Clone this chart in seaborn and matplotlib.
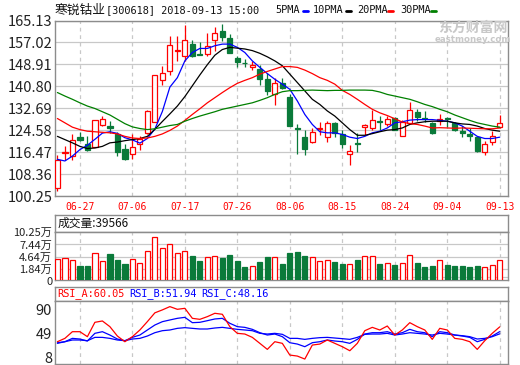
import numpy as np
import pandas as pd
import seaborn as sns
import matplotlib.pyplot as plt
from matplotlib.lines import Line2D

# tamanho final em pixels
W, H = 520, 365

titulo_nome = "寒锐钴业"
titulo_resto = "[300618] 2018-09-13 15:00"

dates = ["06-22", "06-25", "06-26", "06-27", "06-28", "06-29",
         "07-02", "07-03", "07-04", "07-05", "07-06", "07-09", "07-10", "07-11", "07-12", "07-13",
         "07-16", "07-17", "07-18", "07-19", "07-20", "07-23", "07-24", "07-25", "07-26", "07-27",
         "07-30", "07-31", "08-01", "08-02", "08-03", "08-06", "08-07", "08-08", "08-09", "08-10",
         "08-13", "08-14", "08-15", "08-16", "08-17", "08-20", "08-21", "08-22", "08-23", "08-24",
         "08-27", "08-28", "08-29", "08-30", "08-31", "09-03", "09-04", "09-05", "09-06", "09-07",
         "09-10", "09-11", "09-12", "09-13"]

open_p = [103.1, 116.2, 115.1, 122.1, 119.5, 118.4, 126.4, 126.3, 123.2, 117.8,
          115.8, 119.5, 123.6, 127.7, 143.0, 146.5, 153.7, 152.1, 156.4, 152.6,
          152.7, 157.9, 161.2, 158.7, 151.2, 149.5, 147.8, 147.2, 143.4, 137.8,
          142.2, 136.9, 125.3, 122.1, 120.2, 124.9, 122.1, 127.3, 123.3, 115.8,
          119.8, 125.8, 125.4, 127.8, 126.7, 129.2, 122.3, 127.3, 131.3, 129.0,
          127.1, 127.9, 129.1, 127.3, 124.2, 123.3, 122.1, 116.5, 120.1, 125.7]
high_p = [115.5, 118.6, 123.0, 123.9, 122.3, 128.5, 130.0, 127.9, 124.0, 119.5,
          123.3, 122.3, 132.0, 145.0, 148.4, 159.5, 159.5, 163.3, 157.9, 157.1,
          160.4, 162.6, 163.9, 160.2, 152.1, 150.9, 150.2, 148.8, 145.9, 143.8,
          143.8, 137.8, 126.9, 124.5, 125.4, 127.7, 127.9, 127.7, 124.8, 119.0,
          123.6, 126.7, 132.0, 129.8, 129.8, 129.5, 128.2, 135.1, 132.3, 131.7,
          127.7, 130.4, 129.4, 127.7, 126.1, 125.4, 122.3, 120.7, 124.2, 130.2]
low_p = [102.0, 113.4, 113.7, 120.5, 116.8, 118.2, 126.1, 123.6, 114.9, 113.7,
         114.0, 117.4, 123.3, 127.6, 141.3, 145.0, 150.2, 150.2, 151.5, 152.2,
         152.1, 154.0, 157.4, 153.0, 147.8, 148.0, 146.8, 141.3, 137.6, 133.9,
         139.7, 126.1, 115.8, 115.3, 119.9, 122.7, 120.2, 122.0, 118.0, 111.6,
         116.5, 122.7, 124.6, 124.8, 126.1, 124.8, 122.3, 127.2, 127.9, 127.7,
         123.3, 126.4, 125.8, 124.2, 122.0, 120.5, 116.5, 115.3, 119.2, 125.4]
close_p = [113.4, 116.7, 120.9, 120.9, 117.4, 128.3, 128.8, 125.3, 116.5, 114.0,
           118.4, 121.5, 131.7, 144.9, 145.9, 156.1, 154.4, 157.9, 152.1, 152.4,
           155.8, 160.4, 159.2, 153.3, 149.9, 149.3, 148.6, 143.4, 139.1, 141.9,
           140.1, 126.1, 125.0, 117.8, 123.9, 125.3, 127.3, 123.6, 119.6, 116.8,
           119.6, 126.4, 128.3, 127.6, 128.9, 124.8, 127.7, 132.0, 129.4, 128.8,
           123.6, 128.9, 128.7, 124.8, 123.6, 122.3, 116.8, 119.5, 122.6, 127.3]

# volume em 万
volume = [4.17, 4.33, 3.87, 2.58, 2.58, 5.47, 3.72, 5.31, 3.94, 3.03,
          4.17, 3.26, 5.93, 9.12, 6.61, 7.59, 5.54, 5.93, 4.86, 3.72,
          4.56, 4.79, 4.40, 5.09, 3.72, 2.35, 2.58, 3.56, 4.70, 4.63,
          3.10, 5.61, 5.84, 4.93, 4.63, 3.72, 3.94, 3.56, 3.10, 3.03,
          3.94, 4.86, 4.86, 3.10, 3.26, 2.80, 3.26, 5.09, 3.33, 2.35,
          2.58, 3.94, 2.80, 2.58, 2.58, 2.35, 2.58, 2.35, 2.80, 3.9566]

ma5 = [113.8, 113.2, 115.0, 117.4, 119.0, 121.2, 123.5, 124.0, 123.4, 121.8,
       121.0, 119.8, 121.5, 125.0, 131.5, 140.5, 144.0, 150.2, 153.3, 154.8,
       154.8, 155.8, 156.4, 156.4, 155.2, 153.3, 150.2, 147.8, 145.5, 143.4,
       141.6, 139.7, 135.4, 130.4, 126.7, 124.0, 123.6, 123.6, 123.0, 122.0,
       121.5, 122.3, 123.6, 124.2, 125.4, 127.3, 127.7, 128.3, 128.5, 128.5,
       128.5, 128.2, 127.9, 127.3, 126.1, 124.2, 122.3, 121.5, 121.5, 122.0]
ma10 = [122.3, 121.1, 119.9, 118.6, 117.8, 118.0, 118.6, 119.9, 120.2, 120.7,
        121.1, 121.5, 122.3, 124.9, 127.8, 130.6, 133.5, 137.0, 141.0, 145.0,
        148.8, 152.3, 154.4, 155.2, 154.9, 154.6, 154.0, 153.0, 151.7, 150.2,
        148.4, 145.3, 142.2, 139.1, 136.0, 134.1, 131.7, 129.8, 127.3, 124.8,
        122.7, 122.7, 123.3, 124.0, 124.6, 124.8, 125.4, 126.7, 127.3, 127.7,
        127.9, 127.9, 127.9, 127.3, 126.9, 126.7, 126.1, 125.2, 124.6, 124.2]
ma20 = [128.9, 127.3, 125.7, 124.8, 124.2, 124.0, 123.8, 123.6, 123.2, 122.3,
        121.7, 121.5, 121.7, 122.3, 123.2, 124.5, 126.1, 128.2, 130.4, 132.5,
        134.7, 136.6, 138.5, 140.3, 141.9, 143.0, 144.0, 145.3, 146.3, 147.2,
        148.1, 148.1, 147.8, 146.8, 145.5, 144.0, 143.0, 141.6, 139.3, 137.8,
        136.0, 134.1, 132.3, 131.0, 130.0, 128.8, 127.6, 127.0, 126.7, 126.1,
        125.4, 125.5, 125.4, 125.3, 125.4, 125.3, 125.2, 125.1, 125.1, 125.4]
ma30 = [138.5, 137.2, 136.0, 134.7, 133.5, 132.6, 131.4, 130.2, 128.6, 127.0,
        125.8, 125.2, 124.8, 125.1, 125.7, 126.3, 126.7, 127.9, 128.9, 129.8,
        130.6, 131.4, 132.3, 132.9, 133.5, 134.1, 134.7, 135.6, 136.6, 137.8,
        138.8, 139.2, 139.2, 139.3, 139.4, 139.3, 139.2, 139.3, 139.3, 139.4,
        139.4, 139.4, 139.3, 138.7, 137.8, 137.2, 136.6, 136.0, 135.1, 134.1,
        133.3, 132.3, 131.4, 130.2, 129.2, 128.2, 127.3, 126.7, 126.1, 125.7]

rsi_a = [34.7, 40.4, 51.8, 51.8, 43.3, 67.8, 70.1, 60.4, 44.4, 34.7,
         43.3, 54.7, 69.0, 84.0, 89.0, 94.6, 90.0, 91.7, 74.6, 72.9,
         77.5, 83.2, 81.5, 60.4, 49.0, 47.8, 42.1, 31.9, 21.6, 34.7,
         31.9, 11.9, 10.2, 5.1, 29.0, 30.7, 37.6, 31.9, 26.2, 19.3,
         31.9, 53.5, 59.2, 54.7, 61.5, 46.1, 54.7, 67.2, 60.4, 54.7,
         38.7, 57.5, 54.7, 40.4, 38.7, 34.7, 21.6, 36.4, 49.0, 60.05]
rsi_b = [31.9, 34.7, 40.4, 39.3, 35.9, 49.0, 51.8, 46.1, 39.3, 36.4,
         42.1, 46.1, 54.7, 63.2, 68.9, 71.8, 74.6, 76.3, 67.2, 67.8,
         70.6, 73.5, 74.6, 66.1, 60.4, 59.2, 55.8, 50.1, 46.1, 47.8,
         43.3, 33.0, 30.7, 26.2, 33.0, 34.7, 37.6, 35.9, 34.7, 31.9,
         38.7, 47.8, 50.1, 50.1, 51.8, 47.8, 50.1, 55.8, 51.8, 50.1,
         43.3, 51.8, 50.1, 46.1, 44.4, 42.1, 34.7, 38.7, 44.4, 51.94]
rsi_c = [33.0, 34.7, 37.6, 37.6, 36.4, 42.1, 42.1, 40.4, 37.6, 36.4,
         39.3, 40.4, 44.4, 50.1, 53.5, 54.7, 57.5, 58.7, 57.5, 56.4,
         56.4, 58.1, 59.2, 57.5, 55.8, 54.7, 53.5, 49.0, 47.8, 49.0,
         47.3, 40.4, 40.4, 38.7, 40.4, 41.6, 42.1, 41.0, 39.9, 38.7,
         42.1, 47.3, 47.8, 47.8, 49.0, 46.1, 47.8, 50.1, 49.0, 47.8,
         46.1, 49.0, 47.8, 46.1, 45.0, 43.3, 39.3, 40.4, 43.3, 48.16]

price_ticks = [100.25, 108.36, 116.47, 124.58, 132.69, 140.80, 148.91, 157.02, 165.13]
vol_ticks = [0, 1.84, 4.64, 7.44, 10.25]
vol_labels = ["0", "1.84万", "4.64万", "7.44万", "10.25万"]
rsi_ticks = [8, 49, 90]
date_ticks = ["06-27", "07-06", "07-17", "07-26", "08-06", "08-15", "08-24", "09-04", "09-13"]

df = pd.DataFrame({"date": dates, "open": open_p, "high": high_p, "low": low_p,
                   "close": close_p, "vol": volume, "ma5": ma5, "ma10": ma10,
                   "ma20": ma20, "ma30": ma30, "rsi_a": rsi_a, "rsi_b": rsi_b,
                   "rsi_c": rsi_c})
df["x"] = np.arange(len(df))
df["up"] = df["close"] >= df["open"]

RED = "#FF0000"
GREEN = "#0A7A3A"
GRID = "#C8C8C8"
BORDER = "#8C8C8C"

sns.set_theme(style="white")
plt.rcParams["font.family"] = ["DejaVu Sans", "Noto Sans CJK SC"]
NUM_FONT = ["Liberation Sans Narrow", "Noto Sans CJK SC"]
MONO = ["DejaVu Sans Mono", "Noto Sans CJK SC"]

fig = plt.figure(figsize=(W / 100, H / 100), dpi=100)
fig.patch.set_facecolor("white")


def box(l, t, r, b):
    return [l / W, 1 - b / H, (r - l) / W, (b - t) / H]


def frame(ax):
    for s in ax.spines.values():
        s.set_color(BORDER)
        s.set_linewidth(1)
        s.set_visible(True)
    ax.set_facecolor("white")


tick_pos = [dates.index(d) for d in date_ticks]
xlim = (-0.32, 60.1)

# ======== Painel de preço ========
ax = fig.add_axes(box(55, 20.5, 508, 196))
frame(ax)
ax.set_xlim(*xlim)
ax.set_ylim(price_ticks[0], price_ticks[-1])
ax.set_yticks(price_ticks)
ax.set_yticklabels([f"{v:.2f}" for v in price_ticks], family=NUM_FONT, fontsize=10.5, color="#222222")
ax.set_xticks(tick_pos)
ax.set_xticklabels(date_ticks, family=MONO, fontsize=7, color=RED)
ax.tick_params(length=0, pad=2)
ax.tick_params(axis="x", pad=4)
ax.yaxis.grid(True, color=GRID, lw=0.9, ls="-")
ax.xaxis.grid(True, color=GRID, lw=0.9, ls=(0, (3, 3)))
ax.set_axisbelow(True)

cols = np.where(df["up"], RED, GREEN)
ax.vlines(df["x"], df["low"], df["high"], colors=cols, lw=0.9, zorder=2)
body_bottom = np.minimum(df["open"], df["close"])
body_h = np.maximum((df["close"] - df["open"]).abs(), 0.12)
up = df["up"].values
ax.bar(df["x"][up], body_h[up], bottom=body_bottom[up], width=0.7,
       facecolor="white", edgecolor=RED, lw=0.9, zorder=3)
ax.bar(df["x"][~up], body_h[~up], bottom=body_bottom[~up], width=0.7,
       facecolor=GREEN, edgecolor=GREEN, lw=0.9, zorder=3)

for col, c in [("ma5", "#0000FF"), ("ma10", "#000000"), ("ma20", RED), ("ma30", "#008000")]:
    sns.lineplot(data=df, x="x", y=col, ax=ax, color=c, linewidth=0.9, zorder=4)
ax.set_xlabel("")
ax.set_ylabel("")

# título e legenda
fig.text(55 / W, 1 - 10 / H, titulo_nome, family=["Noto Sans CJK SC"], fontsize=9.2,
         va="center", ha="left", color="#111111")
fig.text(106 / W, 1 - 10 / H, titulo_resto, family=MONO, fontsize=7.4,
         va="center", ha="left", color="#111111")
for lab, lx, dx, c in [("5PMA", 275, 303, "#0000FF"), ("10PMA", 313, 346, "#000000"),
                       ("20PMA", 357, 388, RED), ("30PMA", 400, 431, "#008000")]:
    fig.text(lx / W, 1 - 10 / H, lab, family=MONO, fontsize=7.4, va="center", color="#111111")
    fig.add_artist(Line2D([dx / W, (dx + 5) / W], [1 - 11 / H, 1 - 11 / H], color=c, lw=2))

# marca d'água
fig.text(473 / W, 1 - 28 / H, "东方财富网", family=["Noto Sans CJK SC"], fontsize=10,
         fontweight="bold", color="#C8C8C8", ha="center", va="center")
fig.text(473 / W, 1 - 40 / H, "eastmoney.com", fontsize=6.2, fontweight="bold",
         color="#C8C8C8", ha="center", va="center")

# ======== Painel de volume ========
axh = fig.add_axes(box(55, 215, 508, 232))
frame(axh)
axh.set_xticks([])
axh.set_yticks([])
axh.text(0.006, 0.5, f"成交量:{round(volume[-1] * 10000)}", transform=axh.transAxes,
         family=["Noto Sans CJK SC"], fontsize=8.5, va="center", ha="left", color="#111111")

vol_floor = -0.6
axv = fig.add_axes(box(55, 232, 508, 280))
frame(axv)
axv.set_xlim(*xlim)
axv.set_ylim(vol_floor, vol_ticks[-1])
axv.set_yticks(vol_ticks)
axv.set_yticklabels(vol_labels, family=NUM_FONT, fontsize=8, color="#222222")
axv.get_yticklabels()[0].set_va("top")
axv.set_xticks(tick_pos)
axv.set_xticklabels([])
axv.tick_params(length=0, pad=2)
axv.yaxis.grid(True, color=GRID, lw=0.9, ls="-")
axv.xaxis.grid(True, color=GRID, lw=0.9, ls=(0, (3, 3)))
axv.set_axisbelow(True)
vh = df["vol"] - vol_floor
axv.bar(df["x"][up], vh[up], bottom=vol_floor, width=0.7,
        facecolor="white", edgecolor=RED, lw=0.9, zorder=3)
axv.bar(df["x"][~up], vh[~up], bottom=vol_floor, width=0.7,
        facecolor=GREEN, edgecolor=GREEN, lw=0.9, zorder=3)

# ======== Painel RSI ========
axr_h = fig.add_axes(box(55, 287, 508, 300.7))
frame(axr_h)
axr_h.set_xticks([])
axr_h.set_yticks([])
for txt, tx, c in [(f"RSI_A:{rsi_a[-1]:.2f}", 57, RED), (f"RSI_B:{rsi_b[-1]:.2f}", 129, "#0000FF"),
                   (f"RSI_C:{rsi_c[-1]:.2f}", 201, "#0000FF")]:
    fig.text(tx / W, 1 - 294 / H, txt, family=MONO, fontsize=7.4, color=c, va="center", ha="left")

axr = fig.add_axes(box(55, 300.7, 508, 363.5))
frame(axr)
axr.set_xlim(*xlim)
axr.set_ylim(-2.5, 104.7)
axr.set_yticks(rsi_ticks)
axr.set_yticklabels([str(v) for v in rsi_ticks], family=NUM_FONT, fontsize=10.5, color="#222222")
axr.set_xticks(tick_pos)
axr.set_xticklabels([])
axr.tick_params(length=0, pad=2)
axr.xaxis.grid(True, color=GRID, lw=0.9, ls=(0, (3, 3)))
axr.set_axisbelow(True)
for col, c in [("rsi_c", "#0000FF"), ("rsi_b", "#0000FF"), ("rsi_a", RED)]:
    sns.lineplot(data=df, x="x", y=col, ax=axr, color=c, linewidth=0.9, zorder=4)
axr.set_xlabel("")
axr.set_ylabel("")

fig.savefig("out.png", dpi=100)
plt.close(fig)
